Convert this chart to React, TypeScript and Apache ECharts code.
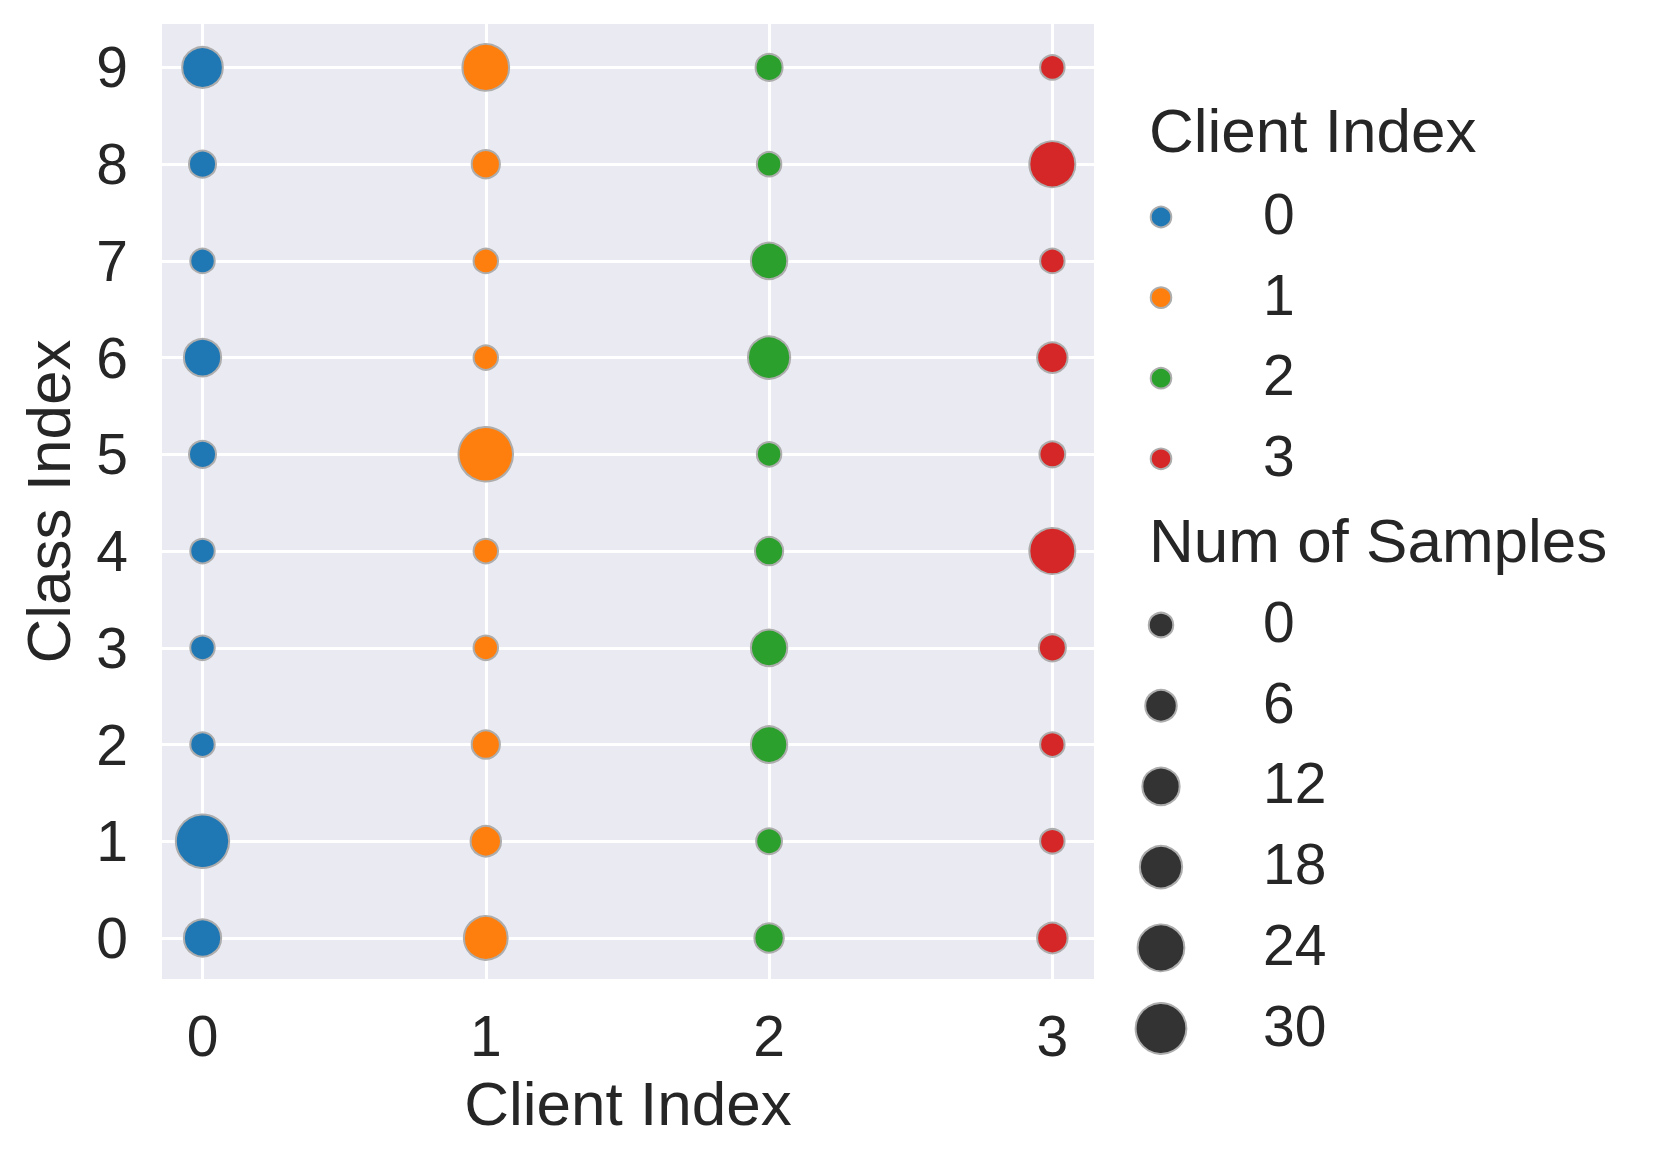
import React, { useEffect, useRef } from "react";
import * as echarts from "echarts";

// ---- data ----
const clientIndices = [0, 1, 2, 3];
const classIndices = [0, 1, 2, 3, 4, 5, 6, 7, 8, 9];
const clientColors = ["#1f77b4", "#ff7f0e", "#2ca02c", "#d62728"];
// Num of samples per class (class 0..9) for each client
const samplesClient0 = [12, 34, 0, 0, 0, 2, 12, 0, 2, 16];
const samplesClient1 = [20, 5, 3, 0, 0, 36, 0, 0, 3, 24];
const samplesClient2 = [4, 1, 11, 11, 3, 0, 18, 11, 0, 2];
const samplesClient3 = [5, 0, 0, 2, 23, 1, 5, 0, 23, 0];
const samplesByClient = [samplesClient0, samplesClient1, samplesClient2, samplesClient3];
const xTickValues = [0, 1, 2, 3];
const yTickValues = [0, 1, 2, 3, 4, 5, 6, 7, 8, 9];
const clientLegendLabels = ["0", "1", "2", "3"];
const sizeLegendValues = [0, 6, 12, 18, 24, 30];

const FONT = "'Liberation Sans', Arial, sans-serif";
const TEXT = "#262626";
const EDGE = "#adadad";

const sizeOf = (v: number) => Math.sqrt(600 + 66 * v);

export default function App() {
  const ref = useRef<HTMLDivElement>(null);
  useEffect(() => {
    if (!ref.current) return;
    const chart = echarts.init(ref.current, undefined, { renderer: "svg" });

    const series = clientIndices.map((c, ci) => ({
      type: "scatter",
      name: String(c),
      data: classIndices.map((k, ki) => [c, k, samplesByClient[ci][ki]]),
      symbol: "circle",
      symbolSize: (val: number[]) => sizeOf(val[2]),
      itemStyle: {
        color: clientColors[ci],
        borderColor: EDGE,
        borderWidth: 2,
        opacity: 1,
      },
      emphasis: { disabled: true },
    }));

    const graphic: any[] = [];
    const legX = 1161;
    const labelX = 1263;
    graphic.push({
      type: "text",
      x: 1149,
      y: 130,
      style: { text: "Client Index", fontSize: 62, fontFamily: FONT, fill: TEXT, verticalAlign: "middle", align: "left" },
    });
    clientLegendLabels.forEach((lab, i) => {
      const cy = 217 + i * 80.6;
      graphic.push({
        type: "circle",
        shape: { cx: legX, cy, r: 10.3 },
        style: { fill: clientColors[i], stroke: EDGE, lineWidth: 2 },
      });
      graphic.push({
        type: "text",
        x: labelX,
        y: cy - 3,
        style: { text: lab, fontSize: 57, fontFamily: FONT, fill: TEXT, verticalAlign: "middle", align: "left" },
      });
    });
    graphic.push({
      type: "text",
      x: 1149,
      y: 540,
      style: { text: "Num of Samples", fontSize: 62, fontFamily: FONT, fill: TEXT, verticalAlign: "middle", align: "left" },
    });
    sizeLegendValues.forEach((v, i) => {
      const cy = 625 + i * 80.7;
      graphic.push({
        type: "circle",
        shape: { cx: legX, cy, r: sizeOf(v) / 2 },
        style: { fill: "#333333", stroke: EDGE, lineWidth: 2 },
      });
      graphic.push({
        type: "text",
        x: labelX,
        y: cy - 3,
        style: { text: String(v), fontSize: 57, fontFamily: FONT, fill: TEXT, verticalAlign: "middle", align: "left" },
      });
    });

    chart.setOption({
      animation: false,
      backgroundColor: "#ffffff",
      grid: {
        left: 162,
        top: 24,
        width: 932,
        height: 955,
        show: true,
        backgroundColor: "#EAEAF2",
        borderWidth: 0,
      },
      xAxis: {
        type: "value",
        min: -0.143,
        max: 3.147,
        name: "Client Index",
        nameLocation: "middle",
        nameGap: 93,
        nameTextStyle: { fontSize: 62, fontFamily: FONT, color: TEXT },
        axisLine: { show: false },
        axisTick: { show: false, customValues: xTickValues },
        axisLabel: { customValues: xTickValues, fontSize: 57, fontFamily: FONT, color: TEXT, margin: 28 },
        splitLine: { show: true, lineStyle: { color: "#ffffff", width: 3 } },
      },
      yAxis: {
        type: "value",
        min: -0.424,
        max: 9.449,
        name: "Class Index",
        nameLocation: "middle",
        nameGap: 83,
        nameRotate: 90,
        nameTextStyle: { fontSize: 62, fontFamily: FONT, color: TEXT },
        axisLine: { show: false },
        axisTick: { show: false, customValues: yTickValues },
        axisLabel: { customValues: yTickValues, fontSize: 57, fontFamily: FONT, color: TEXT, margin: 34 },
        splitLine: { show: true, lineStyle: { color: "#ffffff", width: 3 } },
      },
      series,
      graphic,
    });
    return () => chart.dispose();
  }, []);
  return (
    <div
      ref={ref}
      style={{ position: "fixed", left: 0, top: 0, width: 1661, height: 1163 }}
    />
  );
}
